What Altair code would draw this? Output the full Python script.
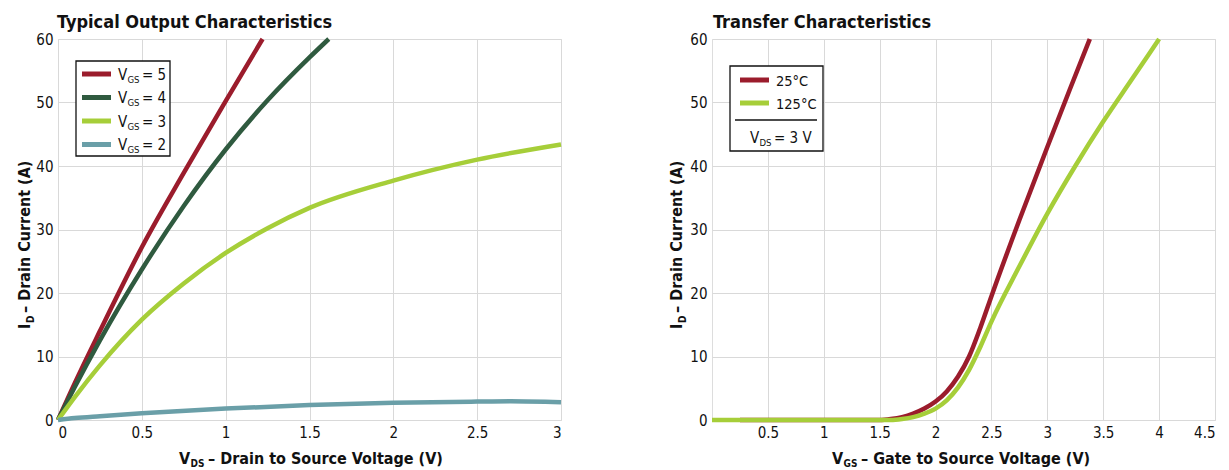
import altair as alt
import pandas as pd

FONT = "DejaVu Sans Condensed, DejaVu Sans, sans-serif"
INK = "#111111"

# ---- Typical output characteristics: I_D (A) vs V_DS (V) per gate drive ----
VGS5_VDS = [0, 0.1, 0.25, 0.5, 0.75, 1.0, 1.22]
VGS5_ID = [0, 5.8, 14.0, 27.2, 38.9, 50.2, 60.0]
VGS4_VDS = [0, 0.1, 0.25, 0.5, 0.75, 1.0, 1.25, 1.5, 1.615]
VGS4_ID = [0, 5.2, 12.55, 23.7, 33.7, 42.6, 50.35, 57.1, 60.0]
VGS3_VDS = [0, 0.1, 0.25, 0.5, 0.75, 1.0, 1.25, 1.5, 2.0, 2.5, 3.0]
VGS3_ID = [0, 3.6, 8.6, 15.8, 21.5, 26.3, 30.2, 33.4, 37.7, 41.0, 43.4]
VGS2_VDS = [0, 0.1, 0.25, 0.5, 1.0, 1.5, 2.0, 2.5, 2.7, 3.0]
VGS2_ID = [0, 0.3, 0.6, 1.05, 1.8, 2.35, 2.7, 2.9, 2.95, 2.8]

OUT_SERIES = ["VGS = 5", "VGS = 4", "VGS = 3", "VGS = 2"]
OUT_VALUES = ["5", "4", "3", "2"]
OUT_COLORS = ["#9b1c2c", "#2f5a3f", "#a6ce39", "#6a9fa8"]

# ---- Transfer characteristics: I_D (A) vs V_GS (V), V_DS = 3 V ----
T25_VGS = [0.25, 1.5, 1.6, 1.7, 1.8, 1.9, 2.0, 2.1, 2.2, 2.3, 2.4, 2.5, 2.75, 3.0, 3.2, 3.38]
T25_ID = [0, 0, 0.15, 0.45, 1.0, 1.8, 2.9, 4.5, 6.8, 10.0, 14.5, 19.5, 31.5, 43.0, 52.0, 60.0]
T125_VGS = [0, 1.6, 1.7, 1.8, 1.9, 2.0, 2.1, 2.2, 2.3, 2.4, 2.5, 2.75, 3.0, 3.25, 3.5, 3.75, 4.0]
T125_ID = [0, 0, 0.15, 0.45, 1.0, 1.8, 3.1, 5.1, 7.9, 11.5, 15.5, 24.2, 32.5, 40.0, 47.0, 53.5, 60.0]

TR_SERIES = ["25°C", "125°C"]
TR_COLORS = ["#9b1c2c", "#a6ce39"]

Y_TICKS = [0, 10, 20, 30, 40, 50, 60]
OUT_X_TICKS = [0, 0.5, 1, 1.5, 2, 2.5, 3]
TR_X_TICKS = [0.5, 1, 1.5, 2, 2.5, 3, 3.5, 4, 4.5]

W, H = 503, 381


def frame(names, xs, ys):
    rows = []
    for name, xv, yv in zip(names, xs, ys):
        for i, (a, b) in enumerate(zip(xv, yv)):
            rows.append({"series": name, "x": a, "y": b, "i": i})
    return pd.DataFrame(rows)


def txt(s, x, y, size, weight="normal", angle=0, align="left"):
    return alt.Chart(pd.DataFrame({"t": [s]})).mark_text(
        font=FONT, fontSize=size, fontWeight=weight, angle=angle,
        align=align, baseline="alphabetic", color=INK,
    ).encode(x=alt.value(x), y=alt.value(y), text="t:N")


def hline(x1, x2, y, color, width):
    return alt.Chart(pd.DataFrame({"k": [0]})).mark_rule(
        color=color, strokeWidth=width
    ).encode(x=alt.value(x1), x2=alt.value(x2), y=alt.value(y))


def box(x1, x2, y1, y2):
    return alt.Chart(pd.DataFrame({"k": [0]})).mark_rect(
        fill="white", stroke=INK, strokeWidth=1.3
    ).encode(x=alt.value(x1), x2=alt.value(x2), y=alt.value(y1), y2=alt.value(y2))


def y_axis():
    return alt.Axis(
        values=Y_TICKS, title=None, ticks=False, domain=False,
        labelFont=FONT, labelFontSize=15, labelColor=INK, labelPadding=5,
        gridColor="#d9d9d9", gridWidth=1,
    )


def x_axis(values):
    return alt.Axis(
        values=values, title=None, ticks=False, domain=False, format="~g",
        labelFont=FONT, labelFontSize=15, labelColor=INK, labelPadding=5,
        gridColor="#d9d9d9", gridWidth=1,
    )


def y_title(base_x):
    # rotated, reading upward: I, subscript D, remainder
    return [
        txt("I", base_x, 290, 16, "bold", 270),
        txt("D", base_x + 4, 284, 10, "bold", 270),
        txt("– Drain Current (A)", base_x, 274, 16, "bold", 270),
    ]


def x_title(start, sub, rest):
    return [
        txt("V", start, 425, 16, "bold"),
        txt(sub, start + 11.5, 428, 10, "bold"),
        txt(rest, start + 29, 425, 16, "bold"),
    ]


# ---------------- left panel ----------------
out_df = frame(OUT_SERIES, [VGS5_VDS, VGS4_VDS, VGS3_VDS, VGS2_VDS],
               [VGS5_ID, VGS4_ID, VGS3_ID, VGS2_ID])

out_lines = alt.Chart(out_df).mark_line(strokeWidth=4.5, interpolate="monotone").encode(
    x=alt.X("x:Q", scale=alt.Scale(domain=[0, 3], nice=False), axis=x_axis(OUT_X_TICKS)),
    y=alt.Y("y:Q", scale=alt.Scale(domain=[0, 60], nice=False), axis=y_axis()),
    color=alt.Color("series:N", scale=alt.Scale(domain=OUT_SERIES, range=OUT_COLORS), legend=None),
    detail="series:N",
    order="i:Q",
)

left_layers = [out_lines, txt("Typical Output Characteristics", -1, -11, 18, "bold")]
left_layers += y_title(-28)
left_layers += x_title(121, "DS", "– Drain to Source Voltage (V)")
left_layers.append(box(18, 112, 22, 117))
for k, (val, col) in enumerate(zip(OUT_VALUES, OUT_COLORS)):
    yy = 35 + k * 23.5
    left_layers += [
        hline(24, 53, yy, col, 5),
        txt("V", 60, yy + 5.5, 15),
        txt("GS", 69.5, yy + 8.5, 9.5),
        txt("= " + val, 84, yy + 5.5, 15),
    ]
left = alt.layer(*left_layers).properties(width=W, height=H)

# ---------------- right panel ----------------
tr_df = frame(TR_SERIES, [T25_VGS, T125_VGS], [T25_ID, T125_ID])

tr_lines = alt.Chart(tr_df).mark_line(strokeWidth=4.5, interpolate="monotone").encode(
    x=alt.X("x:Q", scale=alt.Scale(domain=[0, 4.5], nice=False), axis=x_axis(TR_X_TICKS)),
    y=alt.Y("y:Q", scale=alt.Scale(domain=[0, 60], nice=False), axis=y_axis()),
    color=alt.Color("series:N", scale=alt.Scale(domain=TR_SERIES, range=TR_COLORS), legend=None),
    detail="series:N",
    order="i:Q",
)

right_layers = [tr_lines, txt("Transfer Characteristics", 1, -11, 18, "bold")]
right_layers += y_title(-30)
right_layers += x_title(120, "GS", "– Gate to Source Voltage (V)")
right_layers.append(box(18, 111, 27, 112))
for k, (name, col) in enumerate(zip(TR_SERIES, TR_COLORS)):
    yy = 41 + k * 23
    right_layers += [hline(28, 57, yy, col, 5), txt(name, 64, yy + 6, 14.5)]
right_layers += [
    hline(23, 105, 81, INK, 1.3),
    txt("V", 38, 104, 15),
    txt("DS", 47.5, 107, 9.5),
    txt("= 3 V", 62, 104, 15),
]
right = alt.layer(*right_layers).properties(width=W, height=H)

chart = alt.hconcat(left, right, spacing=97).resolve_scale(color="independent").properties(
    padding={"left": 16, "top": 13, "right": 0, "bottom": 0}
).configure_view(stroke=INK, strokeWidth=1.5).configure(background="white")

chart.save("out.html", embed_options={"renderer": "svg", "actions": False})
